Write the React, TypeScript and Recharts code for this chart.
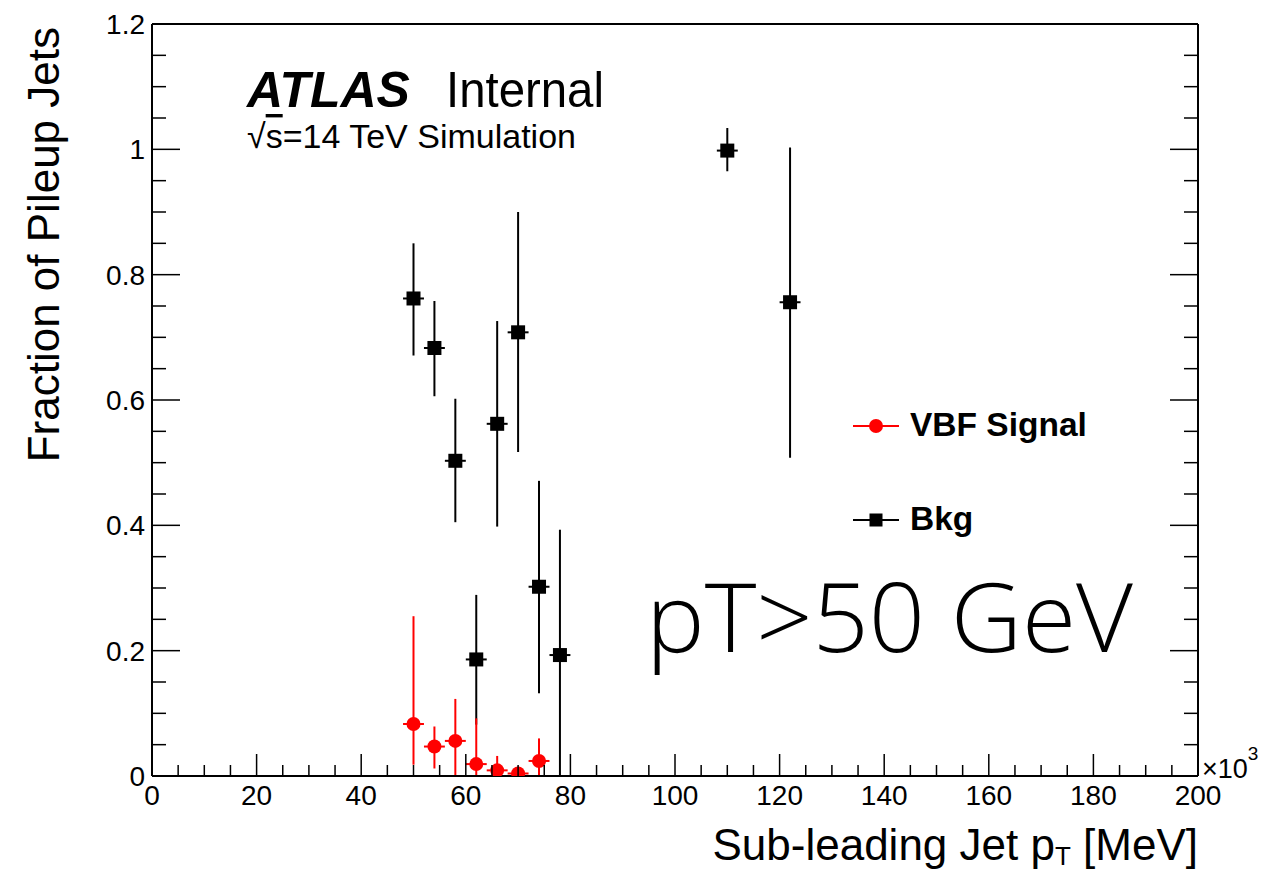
import { ScatterChart, Scatter, XAxis, YAxis, ErrorBar, Legend } from "recharts"

// bin centres (x 10^3 MeV)
const sigX = [50, 54, 58, 62, 66, 70, 74]
const sigY = [0.083, 0.047, 0.056, 0.019, 0.009, 0.004, 0.024]
const sigErrLo = [0.065, 0.035, 0.056, 0.019, 0.009, 0.004, 0.024]
const sigErrHi = [0.172, 0.032, 0.067, 0.073, 0.023, 0.011, 0.036]

const bkgX = [50, 54, 58, 62, 66, 70, 74, 78, 110, 122]
const bkgY = [0.762, 0.683, 0.503, 0.186, 0.562, 0.708, 0.302, 0.193, 0.998, 0.756]
const bkgErrLo = [0.091, 0.077, 0.098, 0.104, 0.164, 0.191, 0.17, 0.193, 0.033, 0.248]
const bkgErrHi = [0.088, 0.075, 0.099, 0.103, 0.164, 0.192, 0.169, 0.2, 0.036, 0.247]

const binHalfWidth = 2

const xMajor = [0, 20, 40, 60, 80, 100, 120, 140, 160, 180, 200]
const yMajor = [0, 0.2, 0.4, 0.6, 0.8, 1, 1.2]
const yLabels = ["0", "0.2", "0.4", "0.6", "0.8", "1", "1.2"]

const xTicks = Array.from({ length: 41 }, (_, i) => i * 5)
const yTicks = Array.from({ length: 25 }, (_, i) => Math.round(i * 5) / 100)

const signal = sigX.map((x, i) => ({ x, y: sigY[i], ey: [sigErrLo[i], sigErrHi[i]], ex: binHalfWidth }))
const bkg = bkgX.map((x, i) => ({ x, y: bkgY[i], ey: [bkgErrLo[i], bkgErrHi[i]], ex: binHalfWidth }))

const FONT = "'Liberation Sans', Arial, Helvetica, sans-serif"
const RED = "#ff0000"

const isXMajor = (v: number) => xMajor.includes(v)
const yMajorIndex = (v: number) => yMajor.findIndex((m) => Math.abs(m - v) < 1e-6)

const BottomTick = ({ x, y, payload }: any) => {
  const major = isXMajor(payload.value)
  return (
    <g>
      <line x1={x} x2={x} y1={y} y2={y - (major ? 22 : 11)} stroke="#000" strokeWidth={1.5} />
      {major && (
        <text x={x} y={y + 29} textAnchor="middle" fontSize={28} fontFamily={FONT} fill="#000">
          {payload.value}
        </text>
      )}
    </g>
  )
}

const TopTick = ({ x, y, payload }: any) => {
  const major = isXMajor(payload.value)
  return <line x1={x} x2={x} y1={y} y2={y + (major ? 22 : 11)} stroke="#000" strokeWidth={1.5} />
}

const LeftTick = ({ x, y, payload }: any) => {
  const idx = yMajorIndex(payload.value)
  const major = idx >= 0
  return (
    <g>
      <line x1={x} x2={x + (major ? 28 : 14)} y1={y} y2={y} stroke="#000" strokeWidth={1.5} />
      {major && (
        <text x={x - 7} y={y + 10} textAnchor="end" fontSize={28} fontFamily={FONT} fill="#000">
          {yLabels[idx]}
        </text>
      )}
    </g>
  )
}

const RightTick = ({ x, y, payload }: any) => {
  const major = yMajorIndex(payload.value) >= 0
  return <line x1={x} x2={x - (major ? 28 : 14)} y1={y} y2={y} stroke="#000" strokeWidth={1.5} />
}

const XTitle = ({ viewBox }: any) => (
  <text x={viewBox.x + viewBox.width} y={viewBox.y + 84} textAnchor="end" fontSize={44} fontFamily={FONT} fill="#000">
    Sub-leading Jet p
    <tspan fontSize={26} dy={5}>T</tspan>
    <tspan dy={-5}> [MeV]</tspan>
  </text>
)

const YTitle = ({ viewBox }: any) => {
  const tx = viewBox.x - 33
  const ty = viewBox.y + 3
  return (
    <text x={tx} y={ty} transform={`rotate(-90 ${tx} ${ty})`} textAnchor="end" fontSize={44} fontFamily={FONT} fill="#000">
      Fraction of Pileup Jets
    </text>
  )
}

const Square = ({ cx, cy }: any) => <rect x={cx - 7} y={cy - 7} width={14} height={14} fill="#000" />
const Dot = ({ cx, cy }: any) => <circle cx={cx} cy={cy} r={7} fill={RED} />

const legendItems = [
  { name: "VBF Signal", color: RED, marker: "circle" },
  { name: "Bkg", color: "#000", marker: "square" },
]

const LegendBox = () => (
  <svg width={280} height={150}>
    {legendItems.map((it, i) => {
      const cy = 26 + i * 94
      return (
        <g key={it.name}>
          <line x1={13} x2={59} y1={cy} y2={cy} stroke={it.color} strokeWidth={2} />
          {it.marker === "circle" ? (
            <circle cx={36} cy={cy} r={7} fill={it.color} />
          ) : (
            <rect x={29.5} y={cy - 6.5} width={13} height={13} fill={it.color} />
          )}
          <text x={70} y={cy + 10} fontSize={33.5} fontWeight="bold" fontFamily={FONT} fill="#000">
            {it.name}
          </text>
        </g>
      )
    })}
  </svg>
)

export default function App() {
  return (
    <div style={{ position: "absolute", left: 0, top: 0, width: 1274, height: 873, background: "#fff" }}>
      <ScatterChart width={1274} height={873} margin={{ top: 14, right: 16, bottom: 37, left: 92 }}>
        <XAxis
          xAxisId="b"
          type="number"
          dataKey="x"
          domain={[0, 200]}
          ticks={xTicks}
          interval={0}
          orientation="bottom"
          height={60}
          tickSize={0}
          tickMargin={0}
          tickLine={false}
          tick={<BottomTick />}
          axisLine={{ stroke: "#000", strokeWidth: 2 }}
          allowDataOverflow
          label={<XTitle />}
        />
        <XAxis
          xAxisId="t"
          type="number"
          domain={[0, 200]}
          ticks={xTicks}
          interval={0}
          orientation="top"
          height={10}
          tickSize={0}
          tickMargin={0}
          tickLine={false}
          tick={<TopTick />}
          axisLine={{ stroke: "#000", strokeWidth: 2 }}
          allowDataOverflow
        />
        <YAxis
          yAxisId="l"
          type="number"
          dataKey="y"
          domain={[0, 1.2]}
          ticks={yTicks}
          interval={0}
          width={60}
          tickSize={0}
          tickMargin={0}
          tickLine={false}
          tick={<LeftTick />}
          axisLine={{ stroke: "#000", strokeWidth: 2 }}
          allowDataOverflow
          label={<YTitle />}
        />
        <YAxis
          yAxisId="r"
          orientation="right"
          type="number"
          domain={[0, 1.2]}
          ticks={yTicks}
          interval={0}
          width={60}
          tickSize={0}
          tickMargin={0}
          tickLine={false}
          tick={<RightTick />}
          axisLine={{ stroke: "#000", strokeWidth: 2 }}
          allowDataOverflow
        />
        <Legend
          layout="vertical"
          align="center"
          verticalAlign="middle"
          content={<LegendBox />}
          wrapperStyle={{ position: "absolute", left: 840, top: 400, width: 280, height: 150 }}
        />
        <Scatter name="Bkg" data={bkg} xAxisId="b" yAxisId="l" fill="#000" shape={<Square />} isAnimationActive={false}>
          <ErrorBar dataKey="ey" direction="y" width={0} stroke="#000" strokeWidth={2} isAnimationActive={false} />
          <ErrorBar dataKey="ex" direction="x" width={0} stroke="#000" strokeWidth={2} isAnimationActive={false} />
        </Scatter>
        <Scatter name="VBF Signal" data={signal} xAxisId="b" yAxisId="l" fill={RED} shape={<Dot />} isAnimationActive={false}>
          <ErrorBar dataKey="ey" direction="y" width={0} stroke={RED} strokeWidth={2} isAnimationActive={false} />
          <ErrorBar dataKey="ex" direction="x" width={0} stroke={RED} strokeWidth={2} isAnimationActive={false} />
        </Scatter>
      </ScatterChart>
      <svg width={1274} height={873} style={{ position: "absolute", left: 0, top: 0, pointerEvents: "none" }}>
        <text x={247} y={107} fontSize={50} fontWeight="bold" fontStyle="italic" fontFamily={FONT} fill="#000">
          ATLAS
        </text>
        <text x={446} y={107} fontSize={50} fontFamily={FONT} fill="#000" textLength={158} lengthAdjust="spacingAndGlyphs">
          Internal
        </text>
        <text x={247} y={148} fontSize={34} fontFamily={FONT} fill="#000">
          √<tspan textDecoration="overline">s</tspan>=14 TeV Simulation
        </text>
        <text x={646} y={652} fontSize={96} fontWeight={300} fontFamily="'Open Sans', 'Liberation Sans', sans-serif" fill="#000" textLength={487} lengthAdjust="spacingAndGlyphs">
          pT&gt;50 GeV
        </text>
        <text x={1202} y={778} fontSize={27} fontFamily={FONT} fill="#000">
          ×10<tspan fontSize={19} dy={-18}>3</tspan>
        </text>
      </svg>
    </div>
  )
}
